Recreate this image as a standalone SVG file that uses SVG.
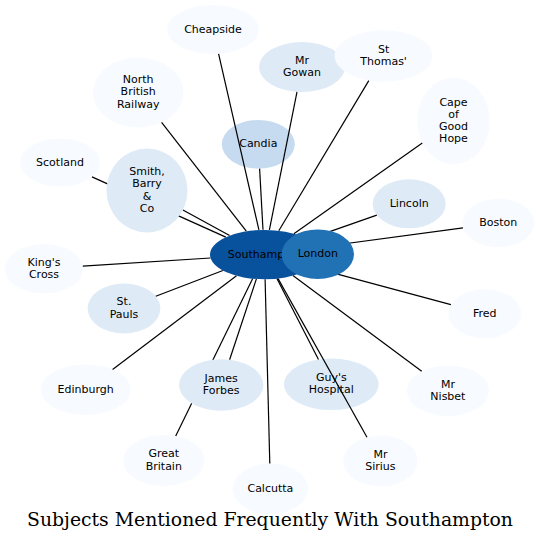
<svg xmlns="http://www.w3.org/2000/svg" width="540" height="542" viewBox="0 0 540 542">
<style>
.n0{fill:#f7fbff}
.n1{fill:#deebf7}
.n2{fill:#c6dbef}
.n3{fill:#08519c}
.n4{fill:#2171b5}
text{font-family:"DejaVu Sans","Liberation Sans",sans-serif;font-size:11px;fill:#000;text-anchor:middle}
.edges line{stroke:#000;stroke-width:1.2}
.title{font-family:"DejaVu Serif","Liberation Serif",serif;font-size:18.5px}
</style>
<rect width="540" height="542" fill="#fff"/>
<g id="cheapside"><ellipse class="n0" cx="213" cy="29.5" rx="46" ry="24.5"/><text x="213" y="32.5">Cheapside</text></g>
<g id="north-british-railway"><ellipse class="n0" cx="138.2" cy="92.4" rx="45.3" ry="35"/><text x="138.2" y="83.2">North</text><text x="138.2" y="95.4">British</text><text x="138.2" y="107.6">Railway</text></g>
<g id="mr-gowan"><ellipse class="n1" cx="302" cy="67" rx="43" ry="25"/><text x="302" y="63.9">Mr</text><text x="302" y="76.1">Gowan</text></g>
<g id="st-thomas"><ellipse class="n0" cx="383.6" cy="56" rx="49" ry="25.8"/><text x="383.6" y="52.9">St</text><text x="383.6" y="65.1">Thomas'</text></g>
<g id="cape-of-good-hope"><ellipse class="n0" cx="453.5" cy="121" rx="36.3" ry="43.2"/><text x="453.5" y="105.7">Cape</text><text x="453.5" y="117.9">of</text><text x="453.5" y="130.1">Good</text><text x="453.5" y="142.3">Hope</text></g>
<g id="candia"><ellipse class="n2" cx="258.3" cy="144.3" rx="36.5" ry="24.3"/><text x="258.3" y="147.3">Candia</text></g>
<g id="scotland"><ellipse class="n0" cx="60" cy="162.5" rx="40" ry="24"/><text x="60" y="165.5">Scotland</text></g>
<g id="lincoln"><ellipse class="n1" cx="409.2" cy="203.8" rx="36.5" ry="24.5"/><text x="409.2" y="206.8">Lincoln</text></g>
<g id="boston"><ellipse class="n0" cx="498.3" cy="223" rx="36" ry="24.2"/><text x="498.3" y="226">Boston</text></g>
<g id="kings-cross"><ellipse class="n0" cx="44" cy="268.7" rx="39" ry="24.7"/><text x="44" y="265.6">King's</text><text x="44" y="277.8">Cross</text></g>
<g id="st-pauls"><ellipse class="n1" cx="124" cy="308.5" rx="36.4" ry="25"/><text x="124" y="305.4">St.</text><text x="124" y="317.6">Pauls</text></g>
<g id="fred"><ellipse class="n0" cx="484.8" cy="313.8" rx="36.5" ry="24.5"/><text x="484.8" y="316.8">Fred</text></g>
<g id="edinburgh"><ellipse class="n0" cx="85.7" cy="389.7" rx="45" ry="25.3"/><text x="85.7" y="392.7">Edinburgh</text></g>
<g id="guys-hospital"><ellipse class="n1" cx="331.3" cy="384.3" rx="47.3" ry="25.8"/><text x="331.3" y="381.2">Guy's</text><text x="331.3" y="393.4">Hospital</text></g>
<g id="mr-nisbet"><ellipse class="n0" cx="447.9" cy="390.7" rx="41" ry="25.3"/><text x="447.9" y="387.6">Mr</text><text x="447.9" y="399.8">Nisbet</text></g>
<g id="great-britain"><ellipse class="n0" cx="163.8" cy="460.4" rx="40.6" ry="25.5"/><text x="163.8" y="457.3">Great</text><text x="163.8" y="469.5">Britain</text></g>
<g id="mr-sirius"><ellipse class="n0" cx="380.4" cy="461" rx="37.2" ry="25.5"/><text x="380.4" y="457.9">Mr</text><text x="380.4" y="470.1">Sirius</text></g>
<g id="calcutta"><ellipse class="n0" cx="270.4" cy="488.8" rx="37.7" ry="25.3"/><text x="270.4" y="491.8">Calcutta</text></g>
<g id="connectors" class="edges">
<line x1="258.9" y1="229.9" x2="218.6" y2="53.8"/>
<line x1="246.3" y1="231.2" x2="161.6" y2="122.4"/>
<line x1="269.4" y1="229.9" x2="297" y2="91.8"/>
<line x1="278.8" y1="230.7" x2="368.8" y2="80.6"/>
<line x1="293.9" y1="233.7" x2="422.3" y2="143.1"/>
<line x1="263" y1="229.8" x2="259.6" y2="168.6"/>
<line x1="225.8" y1="237.1" x2="92" y2="176.9"/>
<line x1="229.6" y1="235.5" x2="182.9" y2="210"/>
<line x1="307.6" y1="239.4" x2="376.8" y2="215.1"/>
<line x1="316.8" y1="247.5" x2="463" y2="227.8"/>
<line x1="210.5" y1="258" x2="82.8" y2="266.2"/>
<line x1="222.9" y1="270.5" x2="155.8" y2="296.3"/>
<line x1="311.4" y1="267.1" x2="450.9" y2="304.7"/>
<line x1="236.5" y1="275.7" x2="112.6" y2="369.4"/>
<line x1="256.4" y1="278.9" x2="229.6" y2="359.7"/>
<line x1="276.9" y1="278.6" x2="318.5" y2="359.5"/>
<line x1="292.9" y1="275.6" x2="421.7" y2="371.2"/>
<line x1="252.7" y1="278.6" x2="175.7" y2="436"/>
<line x1="277.9" y1="278.4" x2="367" y2="437.2"/>
<line x1="265.1" y1="279.2" x2="269.8" y2="463.5"/>
</g>
<g id="smith-barry-co"><ellipse class="n1" cx="147" cy="190.5" rx="40.5" ry="42"/><text x="147" y="175.2">Smith,</text><text x="147" y="187.4">Barry</text><text x="147" y="199.6">&amp;</text><text x="147" y="211.8">Co</text></g>
<g id="james-forbes"><ellipse class="n1" cx="221.2" cy="385" rx="42.2" ry="25.8"/><text x="221.2" y="381.9">James</text><text x="221.2" y="394.1">Forbes</text></g>
<g id="southampton"><ellipse class="n3" cx="264.5" cy="254.6" rx="54.5" ry="24.7"/><text x="265" y="257.6">Southampton</text></g>
<g id="london"><ellipse class="n4" cx="317.8" cy="254.2" rx="36.2" ry="24.8"/><text x="317.8" y="257.2">London</text></g>
<text class="title" x="270" y="525.5" textLength="486" lengthAdjust="spacingAndGlyphs">Subjects Mentioned Frequently With Southampton</text>
</svg>
